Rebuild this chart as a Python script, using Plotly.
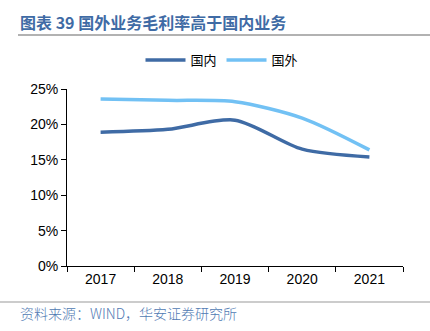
import plotly.graph_objects as go

years = ["2017", "2018", "2019", "2020", "2021"]
domestic = [0.189, 0.193, 0.206, 0.165, 0.154]
overseas = [0.236, 0.234, 0.232, 0.209, 0.164]
y_ticks = [0, 0.05, 0.10, 0.15, 0.20, 0.25]

W, H = 430, 331
ML, MR, MT, MB = 67, 27, 89, 65


def py(pix):
    return 1 - (pix - MT) / (H - MT - MB)


def px(pix):
    return (pix - ML) / (W - ML - MR)


fig = go.Figure()
fig.add_trace(go.Scatter(x=years, y=domestic, name="国内", mode="lines",
                         line=dict(color="#3F6BA5", width=3.5, shape="spline", smoothing=0.8)))
fig.add_trace(go.Scatter(x=years, y=overseas, name="国外", mode="lines",
                         line=dict(color="#72C1F4", width=3.5, shape="spline", smoothing=0.8)))

font_main = "Liberation Sans, Arial, Noto Sans CJK SC, sans-serif"

fig.update_layout(
    width=W, height=H,
    margin=dict(l=ML, r=MR, t=MT, b=MB),
    paper_bgcolor="white", plot_bgcolor="white",
    font=dict(family=font_main, size=14, color="#000000"),
    showlegend=True,
    legend=dict(orientation="h", x=px(222), xanchor="center", y=py(60),
                yanchor="middle", font=dict(size=13, family="Noto Sans CJK SC"),
                itemwidth=40, bgcolor="rgba(0,0,0,0)"),
    xaxis=dict(type="category", range=[-0.5, 4.5], showline=True, linecolor="#000", linewidth=1,
               ticks="outside", tickson="boundaries", ticklen=5, tickcolor="#000",
               showgrid=False, zeroline=False, tickfont=dict(size=14)),
    yaxis=dict(range=[0, 0.25], tickvals=y_ticks, tickformat=".0%",
               showline=True, linecolor="#000", linewidth=1, ticks="outside",
               ticklen=5, tickcolor="#000", showgrid=False, zeroline=False,
               tickfont=dict(size=14)),
)

fig.add_annotation(xref="paper", yref="paper", x=px(18), y=py(22),
                   xanchor="left", yanchor="middle",
                   text="<b>图表 39 国外业务毛利率高于国内业务</b>", showarrow=False,
                   font=dict(size=16, color="#3F6BA5", family="Noto Sans CJK SC"))
fig.add_annotation(xref="paper", yref="paper", x=px(18), y=py(313),
                   xanchor="left", yanchor="middle",
                   text="资料来源：WIND，华安证券研究所", showarrow=False,
                   font=dict(size=14, color="#4F7AB3", family="Noto Sans CJK SC", weight=300))

fig.add_shape(type="line", xref="paper", yref="paper", x0=px(18), x1=px(430),
              y0=py(35), y1=py(35), line=dict(color="#999999", width=1.5))
fig.add_shape(type="line", xref="paper", yref="paper", x0=px(0), x1=px(430),
              y0=py(302), y1=py(302), line=dict(color="#999999", width=1))

fig.write_html("out.html")
